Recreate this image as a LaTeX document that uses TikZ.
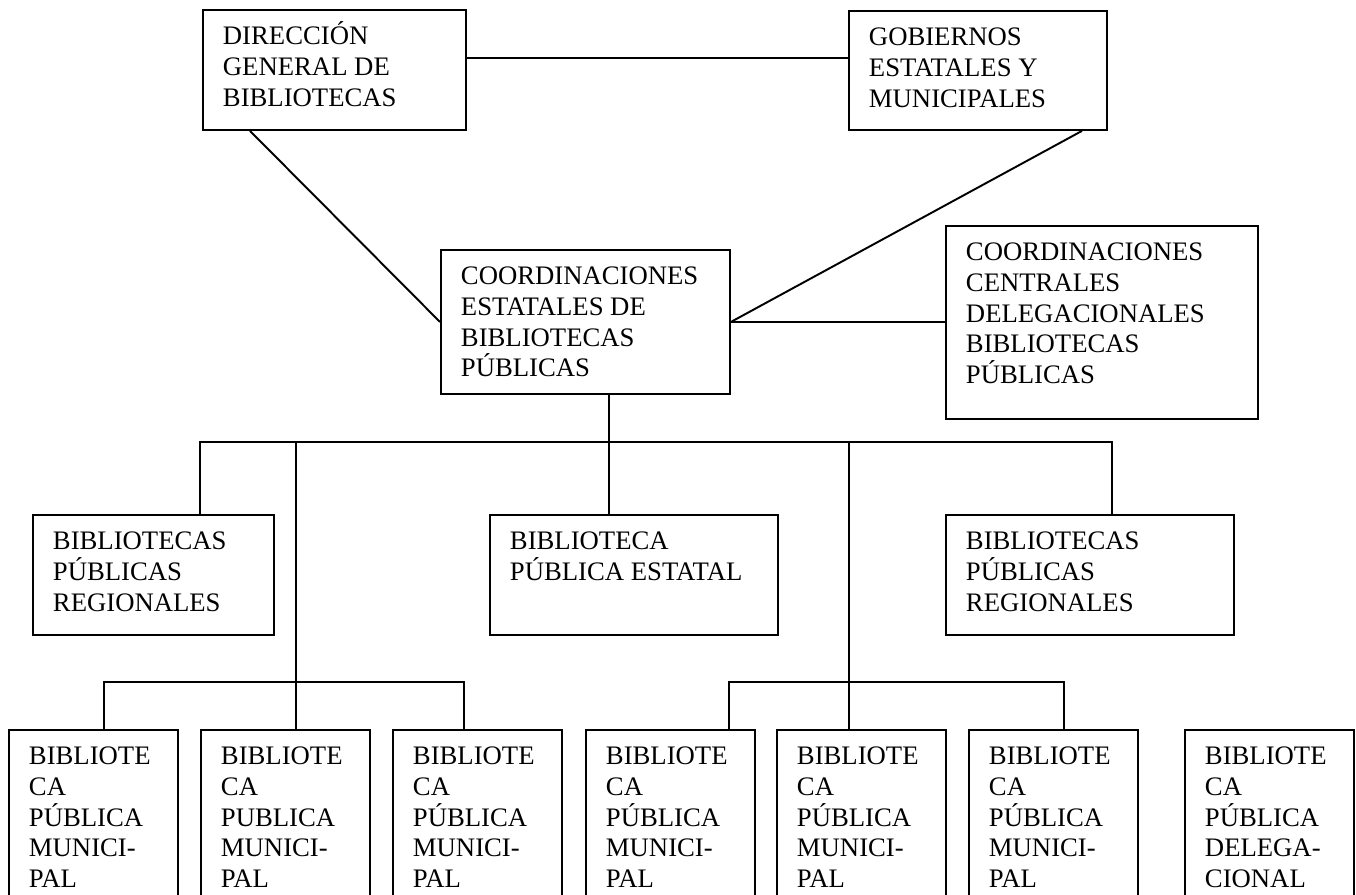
\documentclass[tikz,border=0pt]{standalone}
\usepackage{fontspec}
\setmainfont{Liberation Serif}
\usepackage{tikz}

% text block inside a box: width, height, lines
\newcommand{\cajatexto}[3]{\parbox[t][#2][t]{#1}{\raggedright\leftskip=0.4cm\rule{0pt}{0.7cm}#3}}

\begin{document}
\begin{tikzpicture}
	[
		x=0.02cm, y=-0.02cm, line width=1.1pt,
		caja/.style = {draw, rectangle, anchor=north west, inner sep=0pt, font=\fontsize{15.2}{17.4}\selectfont},
	]
  \useasboundingbox (0,0) rectangle (1356,894);
  \clip (0,0) rectangle (1356,894);

  % top level
  \node[caja] (dgb) at (202,9) {\cajatexto{5.26cm}{2.4cm}{DIRECCIÓN\\GENERAL DE\\BIBLIOTECAS}};
  \node[caja] (gob) at (848,10) {\cajatexto{5.16cm}{2.38cm}{GOBIERNOS\\ESTATALES Y\\MUNICIPALES}};

  % coordinations
  \node[caja] (coord) at (440,249) {\cajatexto{5.78cm}{2.88cm}{COORDINACIONES\\ESTATALES DE\\BIBLIOTECAS\\PÚBLICAS}};
  \node[caja] (central) at (945,225) {\cajatexto{6.24cm}{3.86cm}{COORDINACIONES\\CENTRALES\\DELEGACIONALES\\BIBLIOTECAS\\PÚBLICAS}};

  % middle level
  \node[caja] (bprA) at (32,514) {\cajatexto{4.82cm}{2.4cm}{BIBLIOTECAS\\PÚBLICAS\\REGIONALES}};
  \node[caja] (bpe) at (489,514) {\cajatexto{5.76cm}{2.4cm}{BIBLIOTECA\\PÚBLICA ESTATAL}};
  \node[caja] (bprB) at (945,514) {\cajatexto{5.76cm}{2.4cm}{BIBLIOTECAS\\PÚBLICAS\\REGIONALES}};

  % bottom level
  \node[caja] (b1) at (8,729) {\cajatexto{3.38cm}{3.4cm}{BIBLIOTE\\CA\\PÚBLICA\\MUNICI-\\PAL}};
  \node[caja] (b2) at (200,729) {\cajatexto{3.38cm}{3.4cm}{BIBLIOTE\\CA\\PUBLICA\\MUNICI-\\PAL}};
  \node[caja] (b3) at (392,729) {\cajatexto{3.38cm}{3.4cm}{BIBLIOTE\\CA\\PÚBLICA\\MUNICI-\\PAL}};
  \node[caja] (b4) at (585,729) {\cajatexto{3.38cm}{3.4cm}{BIBLIOTE\\CA\\PÚBLICA\\MUNICI-\\PAL}};
  \node[caja] (b5) at (776,729) {\cajatexto{3.38cm}{3.4cm}{BIBLIOTE\\CA\\PÚBLICA\\MUNICI-\\PAL}};
  \node[caja] (b6) at (968,729) {\cajatexto{3.38cm}{3.4cm}{BIBLIOTE\\CA\\PÚBLICA\\MUNICI-\\PAL}};
  \node[caja] (b7) at (1184,729) {\cajatexto{3.38cm}{3.4cm}{BIBLIOTE\\CA\\PÚBLICA\\DELEGA-\\CIONAL}};

  \coordinate (bus) at (609,442);
  \coordinate (izq) at (296,682);
  \coordinate (der) at (849,682);

  \draw ([yshift=0.24cm]dgb.east) -- ([yshift=0.24cm]dgb.east -| gob.west);
  \draw ([xshift=0.96cm]dgb.south west) -- (coord.west);
  \draw ([xshift=4.68cm]gob.south west) -- (coord.east);
  \draw (coord.east) -- (coord.east -| central.west);

  \draw (coord.south -| bus) -- (bpe.north -| bus);
  \draw ([xshift=3.36cm]bprA.north west) |- (bus) -| ([xshift=3.34cm]bprB.north west);
  \draw (bus -| izq) -- (izq);
  \draw (bus -| der) -- (der);

  \draw ([xshift=1.92cm]b1.north west) |- (izq) -| ([xshift=1.44cm]b3.north west);
  \draw (izq) -- (izq |- b2.north);
  \draw ([xshift=2.88cm]b4.north west) |- (der) -| ([xshift=1.92cm]b6.north west);
  \draw (der) -- (der |- b5.north);

\end{tikzpicture}
\end{document}
